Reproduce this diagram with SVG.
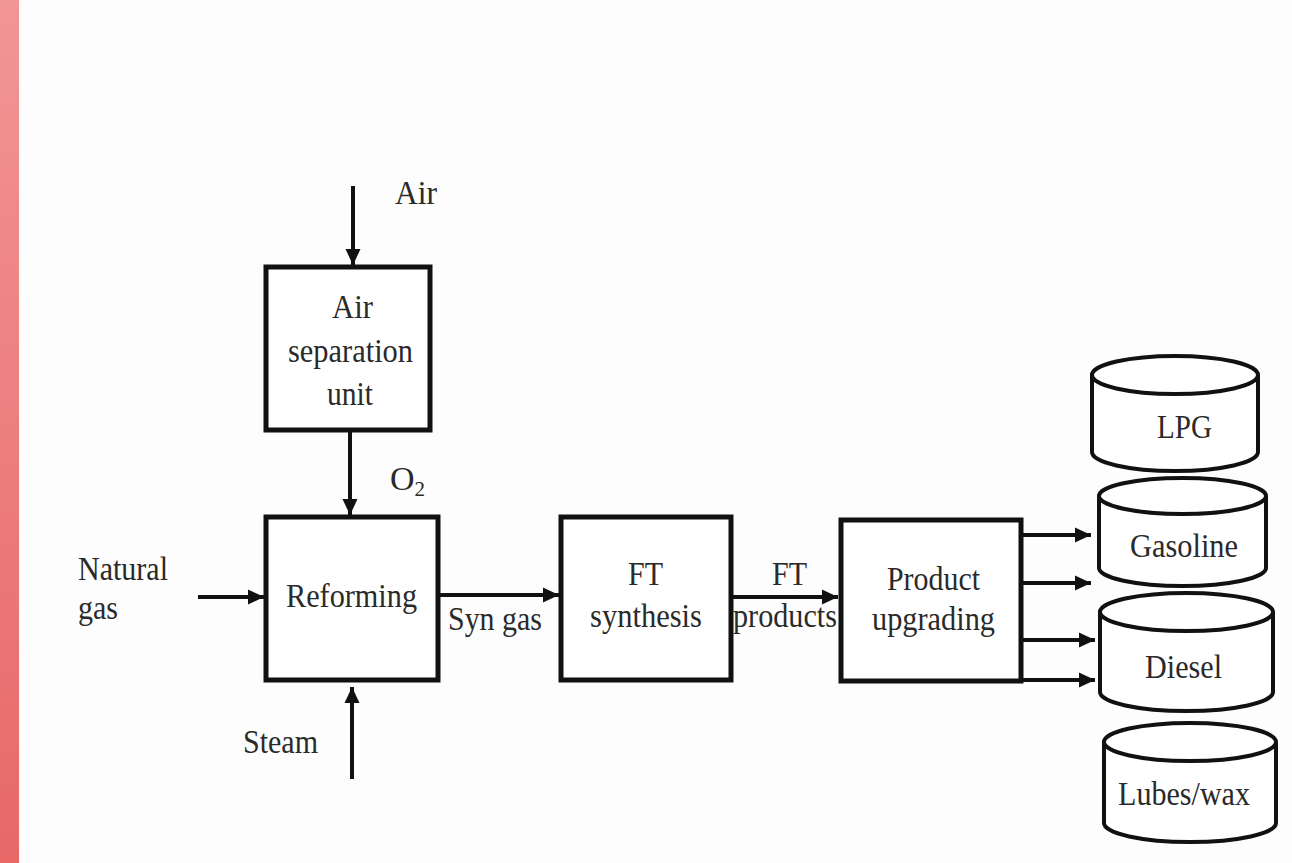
<svg xmlns="http://www.w3.org/2000/svg" width="1292" height="863" viewBox="0 0 1292 863">
  <defs>
    <linearGradient id="strip" x1="0" y1="0" x2="0" y2="1">
      <stop offset="0" stop-color="#f29595"/>
      <stop offset="1" stop-color="#e86868"/>
    </linearGradient>
    <marker id="arr" markerUnits="userSpaceOnUse" markerWidth="17" markerHeight="17" refX="16" refY="8.5" orient="auto">
      <path d="M0,1 L16,8.5 L0,16 z" fill="#111"/>
    </marker>
  </defs>
  <style>
    .box { fill: #ffffff; stroke: #111; stroke-width: 5; }
    .cyl { fill: #ffffff; stroke: #111; stroke-width: 4; }
    .conn { fill: none; stroke: #111; stroke-width: 4; }
    .arrow { marker-end: url(#arr); }
    text { font-family: "Liberation Serif", "Times New Roman", serif; font-size: 34px; fill: #2a2a2a; }
    .sub { font-size: 21px; }
  </style>
  <rect x="0" y="0" width="1292" height="863" fill="#fdfdfd"/>
  <rect x="0" y="0" width="19" height="863" fill="url(#strip)"/>

  <g id="connectors">
    <path class="conn arrow" d="M353,186 V265"/>
    <path class="conn arrow" d="M350,432 V515"/>
    <path class="conn arrow" d="M198,597 H264"/>
    <path class="conn arrow" d="M352,779 V687"/>
    <path class="conn arrow" d="M440,595 H559"/>
    <path class="conn arrow" d="M733,597 H838"/>
    <path class="conn arrow" d="M1021,535 H1091"/>
    <path class="conn arrow" d="M1021,583 H1091"/>
    <path class="conn arrow" d="M1021,640 H1095"/>
    <path class="conn arrow" d="M1018,680 H1095"/>
  </g>

  <g id="label-air">
    <text x="395" y="204" textLength="42" lengthAdjust="spacingAndGlyphs">Air</text>
  </g>
  <g id="label-o2">
    <text x="390" y="490">O<tspan class="sub" dy="6">2</tspan></text>
  </g>
  <g id="label-natural-gas">
    <text x="78" y="580" textLength="90" lengthAdjust="spacingAndGlyphs">Natural</text>
    <text x="78" y="619" textLength="40" lengthAdjust="spacingAndGlyphs">gas</text>
  </g>
  <g id="label-steam">
    <text x="243" y="753" textLength="75" lengthAdjust="spacingAndGlyphs">Steam</text>
  </g>
  <g id="label-syngas">
    <text x="448" y="630" textLength="94" lengthAdjust="spacingAndGlyphs">Syn gas</text>
  </g>
  <g id="label-ft-products">
    <text x="772" y="585" textLength="35" lengthAdjust="spacingAndGlyphs">FT</text>
    <text x="733" y="627" textLength="104" lengthAdjust="spacingAndGlyphs">products</text>
  </g>

  <g id="air-separation-unit">
    <rect class="box" x="266" y="267" width="164" height="163"/>
    <text x="332" y="318" textLength="41" lengthAdjust="spacingAndGlyphs">Air</text>
    <text x="288" y="362" textLength="125" lengthAdjust="spacingAndGlyphs">separation</text>
    <text x="327" y="405" textLength="46" lengthAdjust="spacingAndGlyphs">unit</text>
  </g>
  <g id="reforming">
    <rect class="box" x="266" y="517" width="172" height="163"/>
    <text x="286" y="607" textLength="131" lengthAdjust="spacingAndGlyphs">Reforming</text>
  </g>
  <g id="ft-synthesis">
    <rect class="box" x="561" y="517" width="170" height="163"/>
    <text x="628" y="585" textLength="35" lengthAdjust="spacingAndGlyphs">FT</text>
    <text x="590" y="627" textLength="112" lengthAdjust="spacingAndGlyphs">synthesis</text>
  </g>
  <g id="product-upgrading">
    <rect class="box" x="841" y="520" width="180" height="161"/>
    <text x="887" y="590" textLength="93" lengthAdjust="spacingAndGlyphs">Product</text>
    <text x="872" y="630" textLength="123" lengthAdjust="spacingAndGlyphs">upgrading</text>
  </g>

  <g id="lpg">
    <path class="cyl" d="M1092,375 V452 A83,19 0 0 0 1258,452 V375"/>
    <ellipse class="cyl" cx="1175" cy="375" rx="83" ry="19"/>
    <text x="1157" y="438" textLength="55" lengthAdjust="spacingAndGlyphs">LPG</text>
  </g>
  <g id="gasoline">
    <path class="cyl" d="M1099,496 V568 A83.5,18 0 0 0 1266,568 V496"/>
    <ellipse class="cyl" cx="1182.5" cy="496" rx="83.5" ry="18"/>
    <text x="1130" y="557" textLength="108" lengthAdjust="spacingAndGlyphs">Gasoline</text>
  </g>
  <g id="diesel">
    <path class="cyl" d="M1100,612 V692 A86.5,19 0 0 0 1273,692 V612"/>
    <ellipse class="cyl" cx="1186.5" cy="612" rx="86.5" ry="19"/>
    <text x="1145" y="678" textLength="77" lengthAdjust="spacingAndGlyphs">Diesel</text>
  </g>
  <g id="lubes-wax">
    <path class="cyl" d="M1104,742 V823 A86,19 0 0 0 1276,823 V742"/>
    <ellipse class="cyl" cx="1190" cy="742" rx="86" ry="19"/>
    <text x="1118" y="805" textLength="132" lengthAdjust="spacingAndGlyphs">Lubes/wax</text>
  </g>
</svg>
